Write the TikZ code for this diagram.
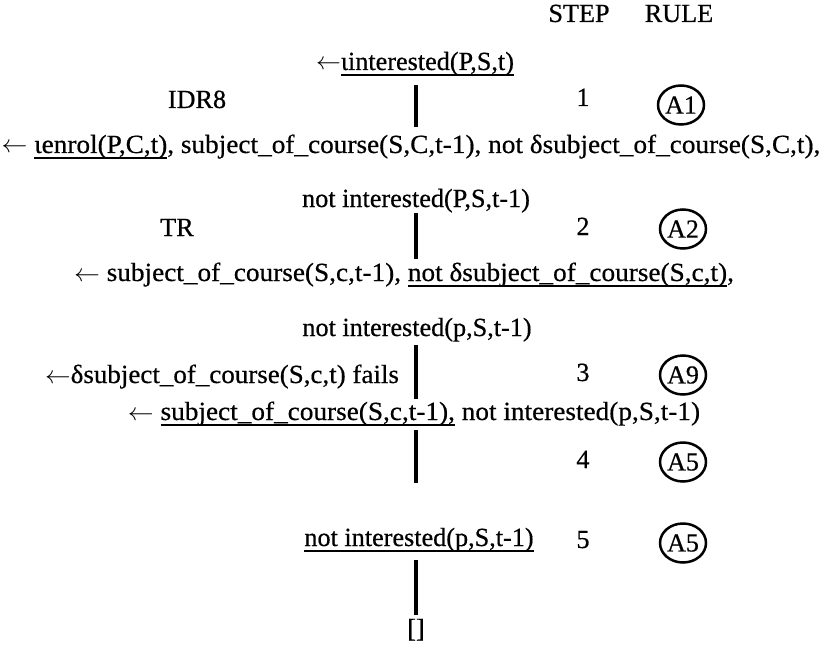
\documentclass[tikz,border=0pt]{standalone}
\usepackage{fontspec}
\setmainfont{Liberation Serif}[FakeBold=0.5]
\usetikzlibrary{shapes.geometric}
% underline a piece of text with a rule of fixed offset and thickness
\newsavebox\ulinebox
\newcommand\ulin[1]{\sbox\ulinebox{#1}\rlap{\rule[-6pt]{\wd\ulinebox}{1.7pt}}\usebox\ulinebox}
% the "derives" arrow in front of a goal
\newcommand\goalarrow{\(\leftarrow\)}
\begin{document}
\begin{tikzpicture}[x=1pt,y=-1pt,
  txt/.style={inner sep=0pt,anchor=base,font=\fontsize{26.2}{30}\selectfont},
  lbl/.style={txt},
  rulecirc/.style={draw,ellipse,line width=2.5pt,inner sep=0pt,minimum width=46pt,minimum height=39pt,font=\fontsize{26}{30}\selectfont},
  vline/.style={line width=3.2pt}]
\useasboundingbox (0,0) rectangle (826,647);
\fill[white] (0,0) rectangle (826,647);
\coordinate (axis) at (416,0);
% column headers
\node[txt] (hstep) at (579,22) {STEP};
\node[txt] (hrule) at (679,22) {RULE};
% derivation goals
\node[txt] (g1) at (415,70) {\goalarrow\ulin{ιinterested(P,S,t)}};
\node[txt,xscale=1.04] (g2) at (411,153) {\goalarrow\ \ulin{ιenrol(P,C,t)}, subject\_of\_course(S,C,t-1), not δsubject\_of\_course(S,C,t),};
\node[txt] (g3) at (416,207) {not interested(P,S,t-1)};
\node[txt,xscale=1.04] (g4) at (404,281) {\goalarrow\ subject\_of\_course(S,c,t-1), \ulin{not δsubject\_of\_course(S,c,t)},};
\node[txt] (g5) at (417,336) {not interested(p,S,t-1)};
\node[txt,xscale=1.03] (fail) at (222,383) {\goalarrow δsubject\_of\_course(S,c,t) fails};
\node[txt,xscale=1.04] (g6) at (414,420) {\goalarrow\ \ulin{subject\_of\_course(S,c,t-1),} not interested(p,S,t-1)};
\node[txt] (g7) at (419,546) {\ulin{not interested(p,S,t-1)}};
\node[txt] (g8) at (416,637) {[]};
% rule names beside the steps
\node[lbl] (idr) at (197,108) {IDR8};
\node[lbl] (tr) at (177,236) {TR};
% step numbers
\node[txt] (s1) at (583,106) {1};
\node[txt] (s2) at (583,235) {2};
\node[txt] (s3) at (583,381) {3};
\node[txt] (s4) at (583,468) {4};
\node[txt] (s5) at (583,548) {5};
% applied rules
\node[rulecirc] (r1) at (681,105) {A1};
\node[rulecirc] (r2) at (683,229) {A2};
\node[rulecirc] (r3) at (683,375) {A9};
\node[rulecirc] (r4) at (683,462) {A5};
\node[rulecirc] (r5) at (683,543) {A5};
% derivation steps
\draw[vline,shorten <=9pt,shorten >=7pt] (g1.south -| axis) -- (g2.north -| axis);
\draw[vline,shorten <=0pt,shorten >=3pt] (g3.south -| axis) -- (g4.north -| axis);
\draw[vline,shorten <=3pt,shorten >=2pt] (g5.south -| axis) -- (g6.north -| axis);
\draw[vline,shorten <=4pt,shorten >=45pt] (g6.south -| axis) -- (g7.north -| axis);
\draw[vline,shorten <=8pt,shorten >=4pt] (g7.south -| axis) -- (g8.north -| axis);
\end{tikzpicture}
\end{document}
